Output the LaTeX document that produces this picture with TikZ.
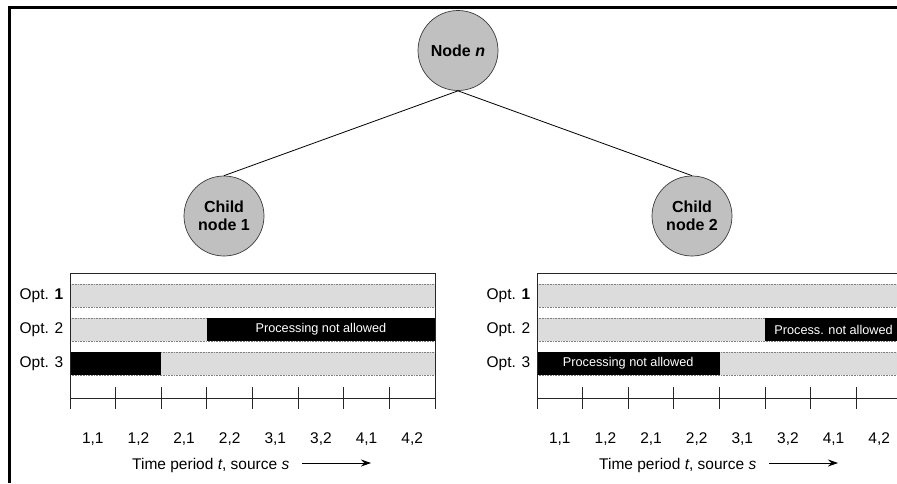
\documentclass[tikz,border=0pt]{standalone}
\usepackage{fontspec}
\setmainfont{Liberation Sans}
\usetikzlibrary{arrows.meta}
\definecolor{nodegray}{HTML}{C0C0C0}
\definecolor{bargray}{HTML}{DCDCDC}
\definecolor{dotgray}{HTML}{808080}
\definecolor{rimgray}{HTML}{3A3A3A}

% One schedule chart: #1 name prefix, #2 horizontal shift,
% #3 first blocked slot of option 2, #4 last blocked slot of option 3,
% #5 text in the option 2 block, #6 text in the option 3 block
\newcommand\schedchart[6]{%
  \begin{scope}[xshift=#2]
    % option bars
    \foreach \r/\top in {1/284,2/318,3/352}{
      \fill[bargray] (70,\top) rectangle (435,\top+23);
      \draw[dotline] (70,\top) -- (435,\top) (70,\top+23) -- (435,\top+23);
      \node[lbl, anchor=east] (#1opt\r) at (63.5,\top+11.5)
        {Opt. \ifnum\r=1 \textbf{1}\else\r\fi};
    }
    \fill[black] ({70+45.625*#3},318) rectangle (435,341);
    \node[bartext] (#1blk2) at ({(70+45.625*#3+435)/2},329.5) {#5};
    \fill[black] (70,352) rectangle ({70+45.625*#4},375);
    \node[bartext] (#1blk3) at ({(70+70+45.625*#4)/2},363.5) {#6};
    % frame and time axis
    \draw[axline] (435,398) -- (435,273) -- (70,273) -- (70,409);
    \draw[axline] (70,398) -- (435,398);
    \foreach \i in {0,...,8}
      \draw[axline] ({70+45.625*\i},387) -- ({70+45.625*\i},409);
    \foreach \lab [count=\k] in {{1,1},{1,2},{2,1},{2,2},{3,1},{3,2},{4,1},{4,2}}
      \node[lbl, anchor=base] (#1slot\k) at ({70+45.625*(\k-0.5)},443) {\lab};
    \node[lbl, anchor=base west] (#1axis) at (132,469)
      {Time period \textit{t}, source \textit{s}};
    \coordinate (#1arrA) at (302,463);
    \coordinate (#1arrB) at (371,463);
    \draw[-{Stealth[length=10pt,width=7pt]}, line width=0.8pt] (#1arrA) -- (#1arrB);
  \end{scope}%
}

\begin{document}
\begin{tikzpicture}[x=1pt,y=-1pt,
  treenode/.style={circle, draw=rimgray, fill=nodegray, line width=0.7pt,
    minimum size=80pt, inner sep=0pt, align=center,
    font=\fontsize{16}{18.5}\selectfont\bfseries},
  lbl/.style={font=\fontsize{15.5}{18}\selectfont, inner sep=0pt},
  bartext/.style={font=\fontsize{12.7}{15}\selectfont, text=white, inner sep=0pt},
  dotline/.style={dotgray, line width=0.6pt, dash pattern=on 0.8pt off 0.8pt},
  axline/.style={black!85, line width=0.9pt},
  edge/.style={black, line width=0.8pt}]
\useasboundingbox (0,0) rectangle (897,483);
\clip (0,0) rectangle (897,483);

% outer frame (left and top sides)
\draw[line width=2.6pt] (9.6,483) -- (9.6,7.7) -- (897,7.7);

% tree
\node[treenode] (n)  at (458,50.5) {Node \textit{n}};
\node[treenode] (c1) at (224,216) {Child\\node 1};
\node[treenode] (c2) at (692,216) {Child\\node 2};
\draw[edge] (n.south) -- (c1.north);
\draw[edge] (n.south) -- (c2.north);

% schedules
\schedchart{L}{0pt}{3}{2}{Processing not allowed}{}
\schedchart{R}{467pt}{5}{4}{Process. not allowed}{Processing not allowed}
\end{tikzpicture}
\end{document}
